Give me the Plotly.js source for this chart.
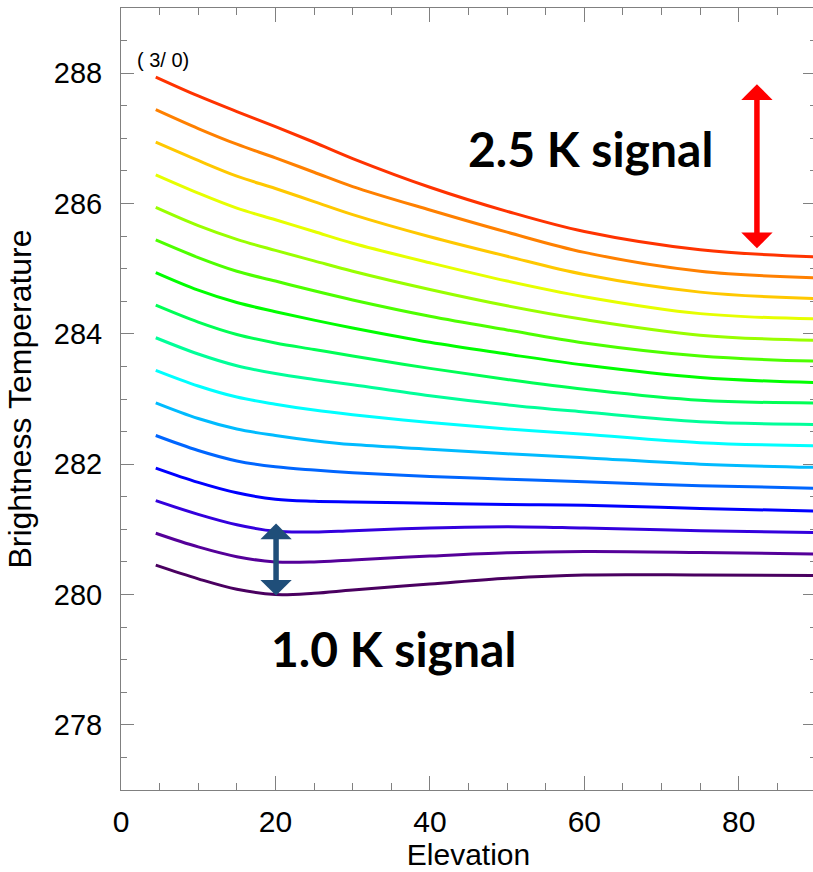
<!DOCTYPE html>
<html>
<head>
<meta charset="utf-8">
<script src="https://cdn.plot.ly/plotly-3.0.1.min.js"></script>
<style>
html, body { margin:0; padding:0; overflow:hidden; background:#fff; }
#chart { width:816px; height:872px; }
</style>
</head>
<body>
<div id="chart"></div>
<script>
// Elevation grid (x)
const elevation = [4.5, 10, 15, 20, 25, 30, 40, 50, 60, 75, 90];

// Brightness temperature series, top (red) to bottom (dark purple)
const bt00 = [287.94, 287.65, 287.41, 287.18, 286.94, 286.69, 286.25, 285.88, 285.57, 285.29, 285.18];
const bt01 = [287.44, 287.15, 286.91, 286.70, 286.48, 286.26, 285.90, 285.56, 285.25, 284.96, 284.86];
const bt02 = [286.94, 286.66, 286.42, 286.23, 286.03, 285.83, 285.49, 285.19, 284.91, 284.64, 284.54];
const bt03 = [286.44, 286.16, 285.93, 285.75, 285.57, 285.39, 285.09, 284.81, 284.57, 284.31, 284.23];
const bt04 = [285.94, 285.66, 285.45, 285.28, 285.12, 284.96, 284.68, 284.43, 284.22, 283.98, 283.90];
const bt05 = [285.44, 285.17, 284.96, 284.81, 284.66, 284.52, 284.27, 284.06, 283.86, 283.66, 283.58];
const bt06 = [284.94, 284.67, 284.48, 284.34, 284.21, 284.09, 283.87, 283.69, 283.52, 283.33, 283.25];
const bt07 = [284.44, 284.18, 283.99, 283.86, 283.76, 283.66, 283.47, 283.30, 283.15, 282.98, 282.94];
const bt08 = [283.94, 283.69, 283.51, 283.39, 283.30, 283.22, 283.05, 282.91, 282.80, 282.65, 282.61];
const bt09 = [283.44, 283.20, 283.03, 282.92, 282.83, 282.76, 282.64, 282.54, 282.46, 282.33, 282.28];
const bt10 = [282.94, 282.70, 282.54, 282.44, 282.36, 282.30, 282.23, 282.16, 282.10, 282.00, 281.95];
const bt11 = [282.44, 282.21, 282.05, 281.96, 281.91, 281.87, 281.81, 281.77, 281.73, 281.67, 281.63];
const bt12 = [281.94, 281.72, 281.56, 281.46, 281.43, 281.42, 281.40, 281.38, 281.37, 281.32, 281.28];
const bt13 = [281.44, 281.23, 281.07, 280.97, 280.96, 280.98, 281.02, 281.04, 281.02, 280.98, 280.95];
const bt14 = [280.94, 280.73, 280.58, 280.50, 280.50, 280.53, 280.59, 280.64, 280.66, 280.645, 280.62];
const bt15 = [280.45, 280.24, 280.08, 280.00, 280.02, 280.07, 280.16, 280.25, 280.30, 280.30, 280.29];

const seriesList = [bt00, bt01, bt02, bt03, bt04, bt05, bt06, bt07, bt08, bt09, bt10, bt11, bt12, bt13, bt14, bt15];
const lineColors = ['#ff3300', '#ff8000', '#ffc800', '#e6ff00', '#99ff00', '#4dff00', '#00ff00', '#00ff55',
                    '#00ff99', '#00ffff', '#00bbff', '#0066ff', '#0000ff', '#3300dd', '#550099', '#4a0060'];

const xTickVals = [0, 20, 40, 60, 80];
const yTickVals = [278, 280, 282, 284, 286, 288];

const traces = seriesList.map((ys, i) => ({
  type: 'scatter', mode: 'lines', x: elevation, y: ys,
  line: { color: lineColors[i], width: 3, shape: 'spline', smoothing: 1.0 },
  hoverinfo: 'skip', showlegend: false
}));

const axisGray = '#808080';
const layout = {
  width: 816, height: 872,
  margin: { l: 121, r: 0, t: 8, b: 82 },
  paper_bgcolor: '#fff', plot_bgcolor: '#fff',
  font: { family: 'Liberation Sans, Arial, sans-serif', color: '#000' },
  xaxis: {
    range: [0, 90], tickvals: xTickVals, ticks: 'inside', ticklen: 14, tickwidth: 1, tickcolor: axisGray,
    showline: true, linecolor: axisGray, linewidth: 1, mirror: 'ticks', showgrid: false, zeroline: false,
    tickfont: { size: 30, family: 'Liberation Sans, Arial, sans-serif' }, ticklabelstandoff: 5,
    minor: { dtick: 5, tick0: 0, ticks: 'inside', ticklen: 7, tickcolor: axisGray, showgrid: false },
    title: { text: 'Elevation', font: { size: 30 }, standoff: 0 }
  },
  yaxis: {
    range: [277, 289], tickvals: yTickVals, ticks: 'inside', ticklen: 13, tickwidth: 1, tickcolor: axisGray,
    showline: true, linecolor: axisGray, linewidth: 1, mirror: 'ticks', showgrid: false, zeroline: false,
    tickfont: { size: 29, family: 'Liberation Sans, Arial, sans-serif' }, ticklabelstandoff: 12,
    minor: { dtick: 0.5, tick0: 277, ticks: 'inside', ticklen: 6, tickcolor: axisGray, showgrid: false },
    title: { text: 'Brightness Temperature', font: { size: 32 }, standoff: 12 }
  },
  annotations: [
    { x: 5.4, y: 288.2, xref: 'x', yref: 'y', text: '( 3/ 0)', showarrow: false,
      font: { size: 20, family: 'Liberation Sans, Arial, sans-serif', color: '#000' } },
    { x: 60.8, y: 286.84, xref: 'x', yref: 'y', text: '2.5 K signal', showarrow: false,
      font: { size: 48, family: 'Lato, sans-serif', weight: 700, color: '#000' } },
    { x: 35.3, y: 279.17, xref: 'x', yref: 'y', text: '1.0 K signal', showarrow: false,
      font: { size: 48, family: 'Lato, sans-serif', weight: 700, color: '#000' } },
    { x: 82.35, y: 287.83, ax: 82.35, ay: 285.29, xref: 'x', yref: 'y', axref: 'x', ayref: 'y',
      text: '', showarrow: true, arrowside: 'end+start', arrowhead: 1, startarrowhead: 1,
      arrowsize: 0.95, startarrowsize: 0.95, arrowwidth: 5.5, arrowcolor: '#ff0000', standoff: 0, startstandoff: 0 },
    { x: 20.08, y: 281.09, ax: 20.08, ay: 279.96, xref: 'x', yref: 'y', axref: 'x', ayref: 'y',
      text: '', showarrow: true, arrowside: 'end+start', arrowhead: 1, startarrowhead: 1,
      arrowsize: 0.95, startarrowsize: 0.95, arrowwidth: 5.5, arrowcolor: '#1f4e79', standoff: 0, startstandoff: 0 }
  ]
};

Plotly.newPlot('chart', traces, layout, { displayModeBar: false, staticPlot: true });
</script>
</body>
</html>
